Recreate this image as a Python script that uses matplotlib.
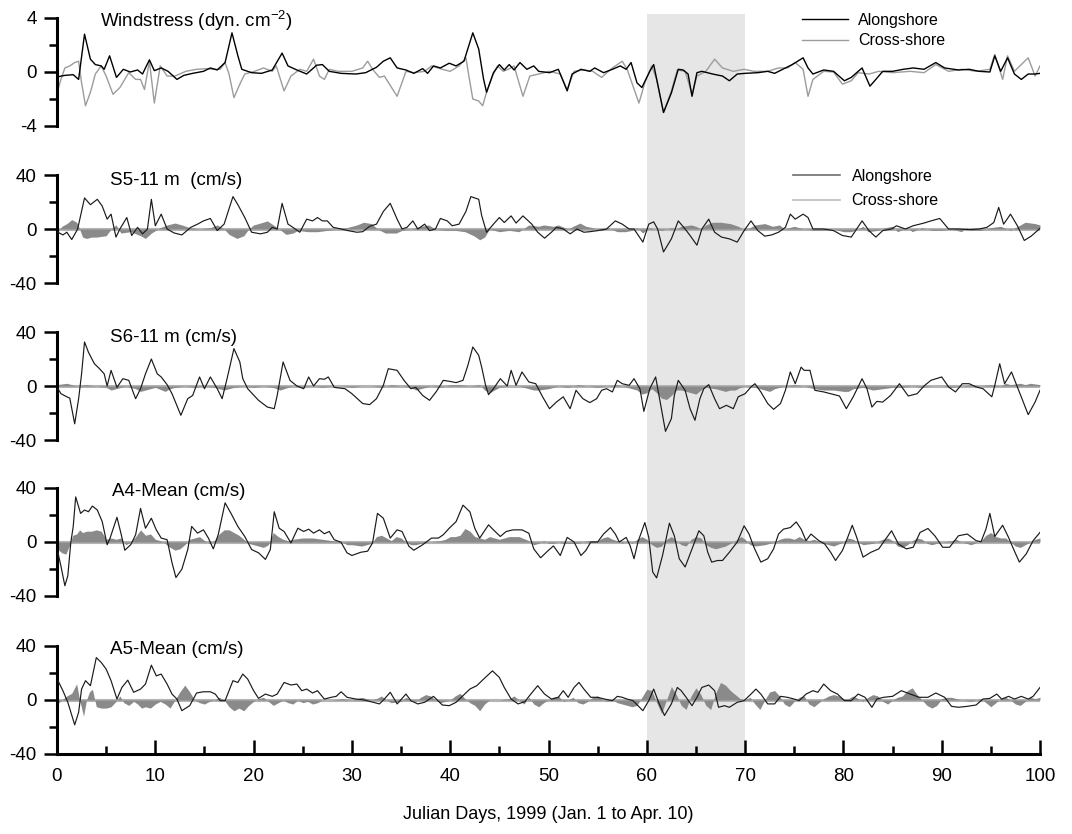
import numpy as np
import matplotlib.pyplot as plt
from matplotlib.lines import Line2D

plt.rcParams['font.family'] = ['Liberation Sans', 'DejaVu Sans']
plt.rcParams['mathtext.fontset'] = 'custom'
plt.rcParams['mathtext.rm'] = 'Liberation Sans'
plt.rcParams['axes.unicode_minus'] = False

# (julian day, value) pairs
wind_along = np.array([
    (0.1, -0.35), (0.8, -0.25), (1.65, -0.2), (2.2, -0.55), (2.8, 2.8), (3.4, 0.95), (3.9, 0.55),
    (4.5, 0.45), (4.8, 0.2), (5.35, 1.2), (6.05, -0.4), (6.75, 0.2), (7.45, 0), (8.2, 0.15),
    (8.7, -0.15), (9.4, 0.9), (9.9, 0.1), (10.6, 0.3), (11.3, 0.05), (12.2, -0.55), (12.9, -0.25),
    (13.8, -0.1), (14.9, 0.05), (15.6, 0.3), (16.3, 0.15), (17.1, 0.7), (17.8, 2.9), (18.4, 1.2),
    (18.8, 0.2), (19.8, -0.05), (20.8, -0.1), (21.9, 0.15), (22.9, 1.4), (23.5, 0.45), (24.4, 0.15),
    (25.4, -0.15), (26.4, 0.5), (27.0, 0.55), (27.7, 0.05), (28.9, -0.1), (30.4, -0.15), (31.4, -0.05),
    (32.5, 0.35), (33.2, 0.8), (33.9, 1.05), (34.6, 0.3), (35.5, 0.15), (36.3, -0.1), (37.2, 0.25),
    (37.7, -0.1), (38.3, 0.45), (39.0, 0.3), (39.9, 0.65), (40.6, 0.45), (41.4, 0.8), (42.3, 2.9),
    (42.9, 1.7), (43.4, -0.55), (43.7, -1.5), (44.4, -0.05), (45.0, 0.55), (45.5, 0.15), (46.0, 0.55),
    (46.5, 0.15), (47.1, 0.7), (47.8, 0.2), (48.5, 0.45), (49.0, 0.05), (50.1, -0.05), (51.0, 0.2),
    (51.9, -1.4), (52.4, -0.15), (53.3, 0.2), (54.2, 0.05), (54.7, 0.3), (55.6, -0.05), (56.5, 0.2),
    (57.3, 0.45), (57.9, 0.2), (58.4, 0.7), (59.0, -0.8), (59.5, -1.15), (60.3, 0.05), (60.7, 0.55),
    (61.7, -3.0), (62.5, -1.55), (63.2, 0.2), (63.7, 0.15), (64.2, -0.15), (64.6, -1.8), (65.1, -0.05),
    (65.6, 0.05), (66.7, -0.15), (67.7, -0.3), (68.4, -0.65), (69.2, -0.15), (70.0, -0.1), (71.3, -0.05),
    (72.3, 0.05), (73.0, -0.1), (74.1, 0.3), (74.8, 0.55), (75.9, 1.05), (76.4, 0.3), (76.9, -0.15),
    (78.0, 0.15), (79.0, 0.05), (80.1, -0.65), (80.8, -0.4), (81.9, 0.3), (82.7, -1.05), (83.3, -0.55),
    (84.0, 0.05), (85.0, 0.05), (86.1, 0.2), (87.1, 0.3), (88.2, 0.2), (89.4, 0.7), (90.3, 0.3),
    (91.7, 0.15), (92.8, 0.2), (93.8, 0.05), (94.9, 0), (95.4, 1.2), (96.0, 0.05), (96.7, 1.05),
    (97.4, -0.15), (98.1, -0.55), (98.8, -0.15), (99.5, -0.15), (100, -0.1)])

wind_cross = np.array([
    (0.1, -1.3), (0.4, -0.55), (0.8, 0.3), (1.3, 0.45), (1.8, 0.7), (2.2, 0.8), (2.5, -0.8), (2.9, -2.5),
    (3.4, -1.5), (3.9, -0.15), (4.5, 0.45), (5.0, -0.3), (5.7, -1.65), (6.4, -1.15), (7.3, -0.05),
    (8.0, -0.55), (8.5, -0.55), (8.9, -1.3), (9.4, 0.8), (9.9, -2.3), (10.5, 0.45), (11.2, -0.3),
    (12.0, -0.3), (13.1, 0.05), (14.2, 0.2), (15.2, 0.25), (15.9, 0.2), (16.6, 0.2), (17.1, 0.7),
    (17.5, -0.15), (18.0, -1.9), (18.6, -0.9), (19.1, -0.15), (20.1, 0.05), (21.0, 0.3), (21.9, 0.05),
    (22.3, 0.45), (23.1, -1.4), (23.8, -0.3), (24.7, 0.2), (25.4, 0.05), (26.1, 0.95), (26.7, -0.3),
    (27.2, -0.55), (27.7, 0.2), (28.6, 0.05), (30.0, 0.05), (31.1, 0.3), (31.6, 0.8), (32.1, 0.2),
    (32.8, -0.4), (33.3, -0.3), (34.6, -1.8), (35.5, 0.05), (36.3, -0.05), (37.4, 0.05), (38.1, 0.45),
    (39.2, 0.2), (40.0, 0.05), (40.9, 0.45), (41.6, 1.05), (41.9, -0.3), (42.3, -2.0), (42.9, -2.15),
    (43.3, -2.5), (43.7, -1.5), (44.3, -0.3), (44.8, 0.45), (45.4, 0.05), (45.9, 0.2), (46.5, 0.45),
    (47.4, -1.8), (48.1, -0.3), (49.0, -0.15), (50.1, 0.05), (51.2, -0.15), (51.9, -1.3), (52.6, 0.05),
    (53.6, 0.15), (54.5, 0.05), (55.4, -0.4), (56.5, 0.3), (57.5, 0.8), (58.0, 0.2), (58.6, -1.05),
    (59.2, -2.3), (59.8, -0.8), (60.5, 0.45), (61.0, -0.55), (61.7, -3.0), (62.5, -1.4), (63.1, 0.15),
    (63.9, 0.05), (64.6, -1.65), (65.1, -0.3), (66.0, 0.05), (66.9, 0.95), (67.7, 0.3), (68.8, 0.05),
    (69.9, 0.2), (70.9, 0.05), (72.3, 0.05), (73.4, 0.3), (74.3, 0.3), (75.1, 0.7), (75.9, 0.2),
    (76.4, -1.8), (76.9, -0.55), (78.0, 0.05), (79.0, 0), (79.9, -0.9), (80.8, -0.65), (81.5, -0.05),
    (82.6, -0.15), (83.6, 0.05), (85.0, -0.05), (86.8, 0.05), (88.2, -0.05), (89.4, 0.55), (90.7, 0.05),
    (92.1, 0.2), (93.5, 0.05), (94.9, 0.2), (95.4, 1.3), (96.2, -0.55), (96.7, 1.2), (97.4, 0.05),
    (98.1, 0.55), (98.8, 1.05), (99.5, -0.3), (100, 0.45)])

s5_along = np.array([
    (0.1, -2.4), (0.6, -4.4), (1.0, -2.4), (1.5, -7.8), (2.1, 0), (2.8, 23), (3.4, 18), (4.1, 22),
    (4.6, 17), (5.1, 7.3), (5.5, 11), (6.0, -6), (6.4, 0), (7.1, 8.5), (7.6, -4.8), (8.2, 1.2),
    (8.7, -3.6), (9.2, 0), (9.6, 22), (10.0, 2.4), (10.6, 11), (11.2, 0), (11.9, -2.9), (12.7, -4.4),
    (13.6, 1.2), (14.3, 3.6), (14.9, 6), (15.6, 7.8), (16.3, -1.2), (17.0, 3.6), (17.9, 24), (18.4, 18),
    (19.1, 8.5), (19.8, -2.4), (20.7, -3.6), (21.4, -2.4), (21.9, 1.2), (22.4, 0), (22.9, 19),
    (23.5, 3.6), (24.0, 1.2), (24.7, -2.4), (25.4, 7.3), (26.0, 6), (26.5, 8.5), (27.0, 6), (27.5, 6),
    (28.1, 1.2), (28.9, 0), (29.6, -1.2), (30.5, -2.4), (31.1, -2), (31.8, 2), (32.5, 3.6), (33.2, 13),
    (33.9, 19), (34.6, 7.3), (35.1, 0), (35.6, 1.2), (36.2, 6), (36.7, 0), (37.4, 3.6), (37.9, -1.2),
    (38.5, 0), (39.0, 7.8), (39.7, 6), (40.2, 2.4), (40.9, 3.6), (41.6, 13), (42.1, 24), (42.9, 22),
    (43.2, 10), (43.7, -2.4), (44.4, 3.6), (45.0, 8.5), (45.5, 4.8), (46.2, 9.7), (46.7, 4.4),
    (47.4, 9.7), (48.3, 3.6), (48.9, -2.4), (49.6, -6.8), (50.3, -2.4), (50.8, 1.2), (51.5, 0),
    (52.2, -3.6), (52.9, 0), (53.6, -2.4), (54.2, -2), (55.0, -1.2), (55.9, 0), (56.8, 6), (57.5, 3.6),
    (58.2, 0), (58.7, 0), (59.6, -9.7), (60.2, 3.6), (60.7, 5.3), (61.1, 0), (61.7, -17), (62.5, -7.3),
    (63.2, 6), (63.9, 0), (64.4, -4.8), (65.1, -12), (65.6, 0), (66.3, 7.3), (66.9, -2.4), (67.6, -6),
    (68.4, -7.3), (69.2, -9.7), (69.9, -1.2), (70.6, 6), (71.3, -1.2), (72.0, -5.3), (72.7, -4.4),
    (73.4, -2.4), (74.1, 1.2), (74.6, 11), (75.1, 7.3), (75.9, 11), (76.4, 8.5), (76.9, 0), (78.0, 0),
    (79.0, -1.2), (79.9, -4.8), (80.8, -6), (81.9, 6), (82.6, -1.2), (83.3, -6), (84.0, -1.2),
    (84.9, 0), (85.4, 2.4), (86.3, 0), (87.1, 2.4), (88.2, 4.4), (88.9, 6), (89.8, 7.8), (90.7, 0),
    (91.7, 0), (92.8, -0.5), (93.8, 0), (94.6, 1.2), (95.3, 4.8), (95.8, 16), (96.3, 3.6), (97.0, 11),
    (97.7, 2.4), (98.4, -8.5), (99.1, -5.3), (100, 0.5)])

s5_cross = np.array([
    (0, -3), (0.5, 2), (1.0, 4), (1.5, 7), (2.0, 5), (2.3, 0), (2.6, -6), (3.0, -7), (3.5, -6), (4.0, -6),
    (5.0, -5), (5.5, 0), (6.0, 3), (6.5, -3), (7.5, -2), (8.5, -5), (9.0, -7), (9.6, -3), (10.5, 1),
    (11.2, 3), (12.0, 4.4), (12.7, 3), (13.5, 1), (14.5, 0), (15.6, 1), (16.3, 3), (17.0, 0), (17.5, -4),
    (18.3, -7), (19.0, -5), (19.5, 0), (20.0, 3), (20.5, 4), (21.4, 6), (22.0, 3), (22.6, 0), (23.3, -4),
    (24.0, -3), (24.5, -1), (25.5, -2), (26.5, -2), (27.5, -1), (28.5, 0), (29.5, 1), (30.5, 3),
    (31.2, 5), (32.0, 4), (32.6, 0), (33.4, -3), (34.5, -3), (35.1, -1), (36.0, 0), (37.0, 2), (37.8, 3),
    (38.5, 0), (39.5, -1), (40.5, -1), (41.5, -2), (42.4, -5), (43.0, -8), (43.5, -6), (44.0, 0),
    (45.0, -2), (46.0, -1), (47.0, -2), (48.0, 3), (49.0, 2), (49.5, 3), (50.5, 2), (51.0, 3), (52.0, 0),
    (52.5, 2), (53.2, 4.4), (53.8, 2), (54.5, 1), (55.0, -1), (55.5, -1), (56.0, 1), (57.0, -2),
    (57.8, -2), (58.5, -1), (59.0, 1), (59.6, -3), (60.2, 1), (60.8, 0), (61.5, -1), (62.5, 1), (63.0, 0),
    (63.5, 2), (64.5, 3), (65.0, 2), (65.5, 0), (66.0, 3), (66.7, 5), (67.5, 5), (68.5, 4), (69.3, 2),
    (70.0, -1), (70.5, 1), (71.0, 3), (72.0, 4), (72.8, 2), (73.5, 3), (74.0, 0), (75.0, 2), (76.0, 0),
    (77.0, -1), (78.0, -1), (79.0, 0), (80.0, -2), (80.8, -2), (81.5, 0), (82.0, 2), (82.5, -2),
    (83.5, -1), (84.2, 1), (85.0, 2), (85.5, -2), (86.5, 1), (87.0, -2), (88.0, 1), (89.0, -1),
    (90.0, -1), (91.0, 0), (92.0, -2), (92.5, 1), (93.0, -1), (94.0, -1), (95.0, 1), (96.0, 2),
    (97.0, -1), (98.0, 3), (98.5, 5), (99.5, 4), (100, 3)])

s6_along = np.array([
    (0.1, -2), (0.4, -5.7), (1.0, -8), (1.3, -9), (1.8, -28), (2.2, -9.4), (2.5, 9), (2.8, 32.6),
    (3.2, 25), (3.8, 16.5), (4.3, 13), (4.8, 9), (5.1, 0), (5.5, 11.6), (6.1, -1), (6.7, 5.4), (7.3, 4.2),
    (8.0, -9.4), (8.5, -2), (9.0, 9), (9.6, 20), (10.2, 9), (10.6, 6.7), (11.2, 1), (11.7, -5.7),
    (12.6, -21.7), (13.3, -9.4), (13.8, -7), (14.5, 6.7), (15.0, -2), (15.6, 6.7), (16.3, -2),
    (16.8, -9.4), (17.3, 5.4), (18.0, 27.7), (18.6, 17.8), (18.9, 5.4), (19.4, -2), (20.5, -10.6),
    (21.4, -15.6), (22.1, -16.8), (22.4, -7), (23.0, 17.8), (23.7, 4.2), (24.4, 0), (25.1, -2),
    (25.6, 6.7), (26.1, 0), (26.7, 5.4), (27.2, 5), (27.6, 6.7), (28.2, -1), (29.3, -2), (30.0, -5.7),
    (31.1, -13), (31.8, -13.8), (32.5, -9.4), (33.2, 0.5), (33.7, 12.8), (34.6, 11.6), (35.3, 4.2),
    (36.0, -2), (36.5, -1), (37.2, -7), (37.9, -10.6), (38.6, -4), (39.3, 4.2), (39.9, 3.5), (40.6, 2.5),
    (41.3, 4.2), (41.8, 15.3), (42.3, 28.9), (42.9, 22.7), (43.2, 14), (43.6, 0.5), (43.9, -6.4),
    (44.4, -2), (45.1, 5.4), (45.8, 0), (46.2, 11.6), (46.7, 0.5), (47.3, 10.4), (48.0, 3), (48.7, 1.7),
    (49.4, -8), (50.1, -16.8), (50.8, -11.9), (51.5, -8), (52.2, -16.8), (52.8, -3.2), (53.5, -9.4),
    (54.2, -12.3), (54.9, -9.4), (55.4, -3.2), (55.9, -2), (56.5, -4.4), (57.0, 4.2), (57.5, 1.7),
    (58.2, 0.5), (58.7, 5.4), (59.3, -2), (59.7, -18.8), (60.3, -2), (60.9, 6.7), (61.3, -9.4),
    (61.9, -33.6), (62.5, -24.2), (62.8, -7), (63.2, 4.2), (63.9, -3.2), (64.4, -16.8), (64.9, -25.4),
    (65.4, -9.4), (65.8, -2), (66.3, 1), (66.9, -9.4), (67.4, -16.8), (68.1, -14.3), (68.8, -16.8),
    (69.3, -8), (70.0, -5.7), (70.6, -0.7), (71.0, 1.7), (71.6, -4.4), (72.3, -13), (72.9, -17.3),
    (73.6, -13), (74.1, -3.2), (74.6, 10.4), (75.1, 1.7), (75.7, 14), (76.0, 11.6), (76.6, 11.6),
    (77.1, -3.2), (78.0, -4.4), (78.7, -5.7), (79.6, -7.4), (80.3, -16.8), (81.0, -8), (81.9, 5.4),
    (82.4, -2), (82.9, -15.6), (83.4, -11.4), (84.0, -11.9), (84.8, -7), (85.7, 1.7), (86.6, -7.4),
    (87.5, -5.7), (88.2, 0), (88.9, 4.2), (90.0, 6.7), (90.7, -0.7), (91.4, -4.4), (92.1, 1.7),
    (92.8, 1.7), (93.5, -0.7), (94.2, -2), (95.1, -8), (95.4, 0.5), (95.9, 16.5), (96.4, 1.7),
    (97.1, 10.4), (97.9, -4.4), (98.8, -21.2), (99.5, -11.9), (100, -3.2)])

s6_cross = np.array([
    (0, 1), (1, 2), (2, 0), (3, 1), (4, 0), (5, -1), (5.5, -3), (6, -2), (7, 0), (8, -2), (8.5, -4),
    (9, -3), (10, -1), (11, -4), (11.5, -2), (12, -1), (13, 0), (14, -1), (15, 0), (16, -1), (17, -3),
    (18, -1), (19, 0), (20, -1), (21, 0), (22, -1), (22.7, -3), (23.5, -1), (24, 0), (25, -1), (26, 0),
    (27, -1), (28, 0), (29, 0), (30, -1), (31, 0), (32, 0), (33, -1), (34, 1), (35, 0), (36, -1),
    (36.5, -3), (37, -2), (38, 0), (39, -1), (40, 1), (41, 1), (42, 0), (43, 1), (43.5, -3), (44, -5),
    (44.5, -3), (45, -1), (46, 0), (47, 0), (48, -2), (48.5, -3), (49, -3), (50, -2), (51, 0), (52, -1),
    (53, 1), (54, 0), (55, -1), (56, 0), (57, 1), (58, -1), (58.5, -2), (59, -3), (59.5, -6), (60, -5),
    (60.5, -2), (61, -5), (61.5, -9), (62, -10), (62.5, -7), (63, -3), (63.5, -3), (64, -4), (64.5, -5),
    (65, -6), (65.5, -3), (66, -1), (67, -2), (68, -4), (68.5, -3), (69, -3), (69.5, -1), (70, 0),
    (71, -1), (72, -3), (72.5, -4), (73, -2), (74, 0), (75, 1), (76, 0), (77, -2), (78, -3), (79, -3),
    (80, -4), (80.5, -4), (81, -2), (82, -1), (83, -3), (84, -2), (85, -1), (86, -1), (87, 0), (88, -1),
    (89, 0), (90, 0), (91, -1), (92, 0), (93, 1), (94, 0), (95, 1), (96, 0), (96.5, 2), (97, 1), (98, 2),
    (98.5, 1), (99, 2), (100, 1)])

a4_along = np.array([
    (0.1, -8), (0.4, -17.8), (0.8, -32.4), (1.1, -25), (1.4, -0.7), (1.65, 11.5), (1.9, 33.4),
    (2.4, 21.2), (2.8, 23.7), (3.2, 22.4), (3.6, 26.6), (4.1, 23.7), (4.6, 15.1), (5.1, -2), (5.4, 2.9),
    (6.1, 18.3), (6.5, 6.6), (6.9, -6.1), (7.5, -2), (8.0, 5.4), (8.5, 24.9), (9.0, 10.2), (9.6, 17.6),
    (10.1, 9), (10.6, 2.9), (11.2, 1.7), (11.7, -15.4), (12.1, -26.3), (12.7, -20.2), (13.3, -5.6),
    (13.7, 11.5), (14.3, 6.6), (14.9, 9), (15.4, 2.9), (15.9, -5.1), (16.4, 5.4), (17.1, 29),
    (17.7, 21.2), (18.4, 11.5), (19.1, 4.1), (19.8, -5.6), (20.5, -8), (21.2, -12.9), (21.7, -5.6),
    (22.1, 22.4), (22.6, 10.2), (23.1, 7.8), (23.8, -0.7), (24.5, 10.2), (25.1, 7.8), (25.6, 9.5),
    (26.1, 6.6), (26.7, 9), (27.2, 6.1), (27.7, 7.8), (28.2, 1.7), (28.9, -0.2), (29.5, -8), (30.0, -10),
    (30.9, -7.6), (31.6, -6.8), (32.1, -0.7), (32.6, 21.2), (33.2, 17.6), (33.9, 2.9), (34.6, 9),
    (35.1, 7.8), (35.8, -3.2), (36.3, -6.1), (37.2, -2), (38.1, 2.9), (38.8, 2.9), (39.3, 5.4),
    (39.9, 10.2), (40.6, 15.1), (41.3, 27.3), (42.0, 22.4), (42.5, 10.2), (43.0, 2.9), (43.9, 12.7),
    (44.4, 9), (45.1, 4.1), (45.7, 7.8), (46.4, 9), (47.3, 9), (48.0, 6.5), (48.5, -5.1), (49.2, -11.7),
    (49.9, -6.8), (50.5, -2.9), (51.2, -10), (51.9, 3.4), (52.6, 0), (53.3, -10), (53.8, -6.3),
    (54.3, 0), (55.0, 0), (55.6, 5.9), (56.3, 10.7), (56.8, 5.9), (57.2, 0), (57.9, 3.4), (58.3, -2.7),
    (58.7, -12.4), (59.1, 0), (59.8, 14.4), (60.2, 3.4), (60.6, -22.2), (61.0, -26.6), (61.6, -10),
    (62.3, 13.9), (62.8, 4.6), (63.3, -12.4), (63.9, -18.5), (64.6, -5.1), (65.3, 8.3), (65.8, 4.6),
    (66.2, -7.6), (66.6, -14.9), (67.2, -13.7), (67.7, -13.7), (68.4, -7.6), (69.2, 0), (69.9, 12),
    (70.4, 5.9), (70.9, -3.9), (71.6, -14.9), (72.3, -12.4), (72.9, -5.1), (73.4, 5.9), (73.9, 9.5),
    (74.6, 10.7), (75.2, 14.9), (75.7, 9.5), (76.2, 1), (76.7, 5.9), (77.5, 1), (78.1, -1.5),
    (78.7, -7.6), (79.2, -13.7), (79.9, -6.3), (80.5, 4.6), (80.9, 12.4), (81.3, 4.6), (82.0, -11.2),
    (82.8, -7.6), (83.6, -5.1), (84.3, 2.2), (84.9, 8.3), (85.6, -1.5), (86.4, -5.1), (87.1, -3.9),
    (87.8, 7.1), (88.6, 10), (89.3, 4.6), (90.1, -3.9), (90.8, -3.9), (91.7, 4.6), (92.6, 5.9),
    (93.5, 1), (94.0, 0.2), (94.5, 9.5), (94.9, 21.2), (95.4, 4.1), (96.2, 12.4), (96.8, 3.4),
    (97.3, -5.1), (97.9, -14.9), (98.6, -8.8), (99.3, 1), (100, 7.1)])

a4_cross = np.array([
    (0, -5), (0.5, -8), (0.9, -9), (1.3, -2), (1.6, 5), (2.0, 6), (2.3, 9), (2.6, 7), (3.0, 8), (3.5, 8),
    (4.0, 9), (4.5, 8), (5.0, 2), (5.5, 3), (6.0, 2), (6.5, 3), (7.0, -2), (7.5, 0), (8.0, 4), (8.5, 9),
    (9.0, 5), (9.5, 6), (10.0, 2), (10.5, 1), (11.0, -1), (11.5, -4), (12.0, -6), (12.5, -5), (13.0, -2),
    (13.5, 2), (14.0, 3), (14.5, 4), (15.0, 1), (15.5, -1), (16.0, 1), (16.5, 6), (17.0, 9), (17.5, 9),
    (18.0, 7), (18.5, 5), (19.0, 2), (19.5, -1), (20.0, -2), (20.5, -3), (21.0, -4), (21.5, -2),
    (22.0, 7), (22.5, 4), (23.0, 2), (23.5, 1), (24, 2), (25, 3), (26, 3), (27, 2), (28, 1), (29, 0),
    (29.5, -2), (30, -2), (31, -3), (32, -1), (32.5, 4), (33, 5), (33.5, 3), (34, 1), (34.5, 4), (35, 3),
    (35.5, 0), (36, -2), (36.5, -2), (37, -1), (38, 0), (39, 1), (39.5, 2), (40, 4), (40.5, 4), (41, 5),
    (41.5, 10), (42, 8), (42.5, 4), (43, 3), (43.5, 2), (44, 4), (44.5, 3), (45, 2), (46, 4), (47, 4),
    (48, 1), (48.5, -2), (49, -1), (49.5, 1), (50, -1), (50.5, -1), (51, 0), (51.5, -1), (52, -1),
    (53, -1), (54, 1), (55, 1), (55.5, 3), (56, 4), (56.5, 2), (57, 1), (57.5, -1), (58, 1), (58.5, -1),
    (59, 2), (59.5, 4), (60, 2), (60.5, -2), (61, -4), (61.5, -3), (62, 2), (62.5, 4), (63, 1),
    (63.5, -2), (64, -3), (64.5, 2), (65, 4), (65.5, 3), (66, -2), (66.5, -4), (67, -5), (68, -3),
    (69, 1), (69.6, 4), (70, 2), (70.5, -2), (71, -3), (72, -2), (73, 0), (73.5, 2), (74, 3), (74.5, 3),
    (75, 2), (75.5, 4), (76, 2), (76.5, 1), (77, 2), (78, -1), (78.5, -2), (79, -3), (80, 0), (80.5, 3),
    (81, 2), (81.5, 0), (82, -2), (83, -1), (84, 2), (84.5, 3), (85, 1), (85.5, -3), (86, -4),
    (86.5, -2), (87, 1), (87.5, 3), (88, 2), (88.5, -1), (89, -2), (90, 0), (91, 1), (91.5, 2), (92, 0),
    (92.5, -1), (93, -2), (94, 1), (94.5, 5), (95, 7), (95.5, 4), (96, 3), (96.5, 3), (97, 0),
    (97.5, -3), (98, -4), (98.5, -2), (99, 0), (99.5, 2), (100, 3)])

a5_along = np.array([
    (0.1, 14.3), (0.6, 6.9), (1.1, -1.7), (1.8, -18.4), (2.2, -9.1), (2.5, 8.1), (2.9, 14.3), (3.4, 10.6),
    (4.0, 31.4), (4.5, 27.8), (5.0, 22.9), (5.5, 14.3), (6.1, 0.7), (6.6, 9.3), (7.2, 14.7), (7.8, 5.7),
    (8.5, 8.1), (9.0, 11.8), (9.6, 25.8), (10.1, 17.9), (10.6, 19.2), (11.2, 11.8), (11.7, 4.4),
    (12.2, 0.7), (12.7, -7.9), (13.5, -4.2), (14.2, 5.2), (14.9, 6.1), (15.6, 6.1), (16.1, 4.4),
    (16.6, -0.5), (17.1, -0.5), (17.9, 14.3), (18.4, 13), (18.9, 19.2), (19.4, 15.5), (20.0, 6.9),
    (20.5, 1.2), (21.2, 4.4), (21.9, 2.7), (22.4, 4.4), (23.1, 13), (23.8, 11.1), (24.4, 11.8),
    (24.9, 6.9), (25.4, 8.1), (26.0, 5.2), (26.5, 6.9), (27.2, 0.7), (27.9, 2), (28.4, 2.7), (28.9, 6.1),
    (29.5, 2), (30.4, 0.7), (31.1, 0.2), (31.9, -1.2), (32.8, -2.9), (33.3, 0.7), (33.9, 5.7),
    (34.6, -2.9), (35.5, 4.4), (36.0, -0.5), (36.7, -2.9), (37.4, -1.7), (38.3, 2.7), (39.2, -3.7),
    (39.9, -4.2), (40.6, -1.7), (41.3, 3.2), (42.0, 8.1), (42.7, 10.6), (43.4, 15.5), (44.3, 21.6),
    (45.0, 16.7), (45.5, 9.3), (46.2, 0.7), (46.9, -2.9), (47.6, -1.2), (48.2, 4.4), (48.9, 10.6),
    (49.6, 4.4), (50.3, 0.7), (51.0, 2), (51.5, 6.9), (52.0, 2), (52.6, 9.3), (53.1, 13), (53.6, 8.1),
    (54.3, 2), (55.0, 2), (55.7, 0.7), (56.5, -0.5), (57.0, 2.7), (57.5, 2), (58.0, 0.7), (58.6, -0.5),
    (59.1, -4.2), (59.6, -7.9), (60.2, -0.5), (60.7, 8.1), (61.2, -1.7), (61.8, -11.5), (62.5, -2.9),
    (63.1, 9.3), (63.5, 6.9), (64.0, 2), (64.6, -4.2), (65.1, 2), (65.6, 9.3), (66.3, 11.1),
    (66.9, 6.9), (67.3, -5.4), (67.9, -4.2), (68.4, -5.4), (69.2, -1.7), (69.9, -0.5), (70.6, 4.4),
    (71.1, 8.1), (71.6, 4.4), (72.3, -2.9), (73.0, -2.9), (73.6, 2.7), (74.3, 2), (75.0, 0.7),
    (75.5, -0.5), (76.2, 4.4), (76.9, 6.9), (77.4, 5.7), (78.0, 11.8), (78.7, 6.9), (79.4, 4.4),
    (80.1, -0.5), (80.8, -0.5), (81.5, 4.4), (82.2, 2), (82.9, -5.4), (83.4, 0.7), (84.1, 2), (85.0, 2.7),
    (85.9, 6.9), (86.8, 4.4), (87.7, 2), (88.6, 2), (89.4, 5.2), (90.3, 2), (91.0, -4.7), (91.7, -5.4),
    (92.6, -4.7), (93.5, -3.7), (94.2, 0.7), (94.9, 1.2), (95.6, 4.4), (96.1, 0.7), (96.8, 2.7),
    (97.4, 0.7), (98.1, 2.7), (98.8, 0.7), (99.3, 2.7), (100, 9.3)])

a5_cross = np.array([
    (0, -3), (0.5, 0), (1.0, 3), (1.5, 5), (2.0, 12), (2.3, 0), (2.7, -12), (3.0, 0), (3.3, 6), (3.6, 8),
    (4.0, -5), (4.5, -6), (5.0, -6), (5.5, -5), (6.0, -1), (6.4, 3), (6.8, -2), (7.3, -4), (7.8, -1),
    (8.2, -3), (8.6, -6), (9.0, -5), (9.5, -6), (10.0, -3), (10.5, -1), (11.0, -3), (11.5, -6), (12.0, 0),
    (12.5, 6), (13.0, 11), (13.5, 6), (14.0, 0), (14.5, -2), (15.0, -3), (15.5, -1), (16.0, 0), (16.5, 2),
    (17.0, 0), (17.5, -5), (18.0, -8), (18.5, -6), (19.0, -8), (19.5, -4), (20.0, -1), (20.5, 1),
    (21.0, 2), (21.5, -1), (22.0, -4), (22.5, -2), (23.0, 0), (23.5, -2), (24.0, -3), (24.5, 0),
    (25.0, -2), (25.5, -1), (26.0, -3), (26.5, -2), (27.0, 0), (28.0, 0), (29.0, 1), (30.0, 0),
    (31.0, 2), (31.5, 1), (32.0, 0), (32.5, 1), (33.0, 3), (33.5, 0), (34.0, -2), (35.0, -1), (35.5, 2),
    (36.0, 0), (36.5, -1), (37.0, 2), (37.5, 4), (38.0, 3), (38.5, 0), (39.0, -2), (40.0, 0), (40.5, 3),
    (41.0, 5), (41.5, 1), (42.0, -2), (42.5, -4), (43.0, -8), (43.5, -3), (44.0, 0), (45.0, 0),
    (46.0, 1), (46.5, 3), (47.0, 0), (47.5, -3), (48.0, 2), (48.5, -3), (49.0, -5), (49.5, -2), (50.0, 0),
    (50.5, 2), (51.0, 3), (51.5, -1), (52.0, 0), (52.5, 2), (53.0, -2), (53.5, -3), (54.0, -1),
    (54.5, 2), (55.0, 3), (55.5, 0), (56.0, -1), (56.5, 0), (57.0, -2), (57.5, -3), (58.0, -4),
    (58.5, -5), (59.0, -4), (59.5, 2), (60.0, 8), (60.5, 7), (61.0, -2), (61.5, -10), (62.0, 0),
    (62.5, 10), (63.0, 4), (63.5, -4), (64.0, -7), (64.5, 3), (65.0, 9), (65.5, 4), (66.0, -4),
    (66.5, -7), (67.0, 5), (67.5, 13), (68.0, 11), (68.5, 7), (69.0, 4), (69.5, 1), (70.0, 0), (70.5, 2),
    (71.0, -3), (71.5, -7), (72.0, 0), (72.5, 6), (73.0, 7), (73.5, 3), (74.0, -3), (74.5, -5),
    (75.0, -1), (75.5, 2), (76.0, 3), (76.5, -3), (77.0, -5), (77.5, -2), (78.0, 1), (78.5, 3), (79.0, 4),
    (79.5, 3), (80.0, 1), (80.5, 1), (81.0, 3), (81.5, 1), (82.0, -1), (82.5, 2), (83.0, 4), (83.5, 3),
    (84.0, -1), (84.5, -3), (85.0, 0), (85.5, 2), (86.0, 3), (86.5, 7), (87.0, 9), (87.5, 4), (88.0, 0),
    (88.5, -4), (89.0, -6), (89.5, -4), (90.0, 1), (90.5, 2), (91.0, 2), (91.5, 1), (92.0, 0),
    (93.0, -1), (93.5, 0), (94.0, 1), (94.5, -2), (95.0, -5), (95.5, -2), (96.0, 1), (96.5, 2),
    (97.0, 0), (97.5, -3), (98.0, -4), (98.5, -1), (99.0, 2), (99.5, 1), (100, 2)])

titles = [r'Windstress (dyn. cm$^{\mathrm{-2}}$)', 'S5-11 m  (cm/s)', 'S6-11 m (cm/s)',
          'A4-Mean (cm/s)', 'A5-Mean (cm/s)']
limits = [4, 40, 40, 40, 40]
along_series = [wind_along, s5_along, s6_along, a4_along, a5_along]
cross_series = [wind_cross, s5_cross, s6_cross, a4_cross, a5_cross]
shade_days = (60, 70)
day_ticks = list(range(0, 101, 10))

W_PX, H_PX = 1072, 834
fig = plt.figure(figsize=(W_PX / 100, H_PX / 100), dpi=100)

left = 57 / W_PX
width = 983 / W_PX
height = 108 / H_PX
bottoms_px = [126, 283, 440, 596, 754]
title_y = [0.98, 0.95, 0.95, 0.97, 0.97]
title_x = [0.044, 0.054, 0.054, 0.056, 0.054]

# shaded window spanning every panel
bg = fig.add_axes([left, 1 - 754 / H_PX, width, (754 - 14) / H_PX], zorder=0)
bg.axvspan(*shade_days, color='#e6e6e6', lw=0)
bg.set_xlim(0, 100)
bg.set_ylim(0, 1)
bg.axis('off')

for i in range(5):
    ax = fig.add_axes([left, 1 - bottoms_px[i] / H_PX, width, height], zorder=1)
    ax.patch.set_visible(False)
    lim = limits[i]
    ad, av = along_series[i].T
    cd, cv = cross_series[i].T

    if i == 0:
        ax.plot(cd, cv, color='#9c9c9c', lw=1.0)
        ax.plot(ad, av, color='black', lw=1.0)
    else:
        ax.axhline(0, color='#b4b4b4', lw=2.2, zorder=1)
        ax.fill_between(cd, cv, 0, color='#8a8a8a', lw=0, zorder=2)
        ax.plot(ad, av, color='#1a1a1a', lw=0.85, zorder=3)

    ax.set_xlim(0, 100)
    ax.set_ylim(-lim, lim)
    for side in ['top', 'right']:
        ax.spines[side].set_visible(False)
    ax.spines['left'].set_linewidth(2.2)

    ax.set_yticks([-lim, 0, lim])
    ax.set_yticklabels(['-%d' % lim, '0', '%d' % lim])
    ax.set_yticks([-lim / 2, lim / 2], minor=True)
    ax.tick_params(axis='y', which='major', direction='out', length=9.5, width=1.8,
                   labelsize=13.5, pad=5)
    ax.tick_params(axis='y', which='minor', direction='out', length=5.5, width=1.8)

    if i < 4:
        ax.spines['bottom'].set_visible(False)
        ax.set_xticks([])
    else:
        ax.spines['bottom'].set_linewidth(2.2)
        ax.set_xticks(day_ticks)
        ax.set_xticklabels([str(d) for d in day_ticks])
        ax.set_xticks(range(5, 100, 10), minor=True)
        ax.tick_params(axis='x', which='major', direction='in', length=10, width=1.8,
                       labelsize=13.5, pad=10)
        ax.tick_params(axis='x', which='minor', direction='in', length=5.5, width=1.8)
        ax.set_xlabel('Julian Days, 1999 (Jan. 1 to Apr. 10)', fontsize=13, labelpad=15)

    ax.text(title_x[i], title_y[i], titles[i], transform=ax.transAxes,
            fontsize=13.5, va='center', ha='left')

    if i == 0:
        keys = [Line2D([], [], color='black', lw=1.0), Line2D([], [], color='#9c9c9c', lw=1.0)]
        ax.legend(keys, ['Alongshore', 'Cross-shore'], loc='upper left',
                  bbox_to_anchor=(0.758, 1.05), frameon=False, fontsize=11.5,
                  handlelength=2.9, handletextpad=0.6, labelspacing=0.35,
                  borderpad=0, borderaxespad=0)
    elif i == 1:
        keys = [Line2D([], [], color='#6e6e6e', lw=1.2), Line2D([], [], color='#bdbdbd', lw=1.2)]
        ax.legend(keys, ['Alongshore', 'Cross-shore'], loc='upper left',
                  bbox_to_anchor=(0.749, 1.06), frameon=False, fontsize=11.5,
                  handlelength=2.9, handletextpad=0.75, labelspacing=0.62,
                  borderpad=0, borderaxespad=0)

fig.savefig('out.png', dpi=100)
